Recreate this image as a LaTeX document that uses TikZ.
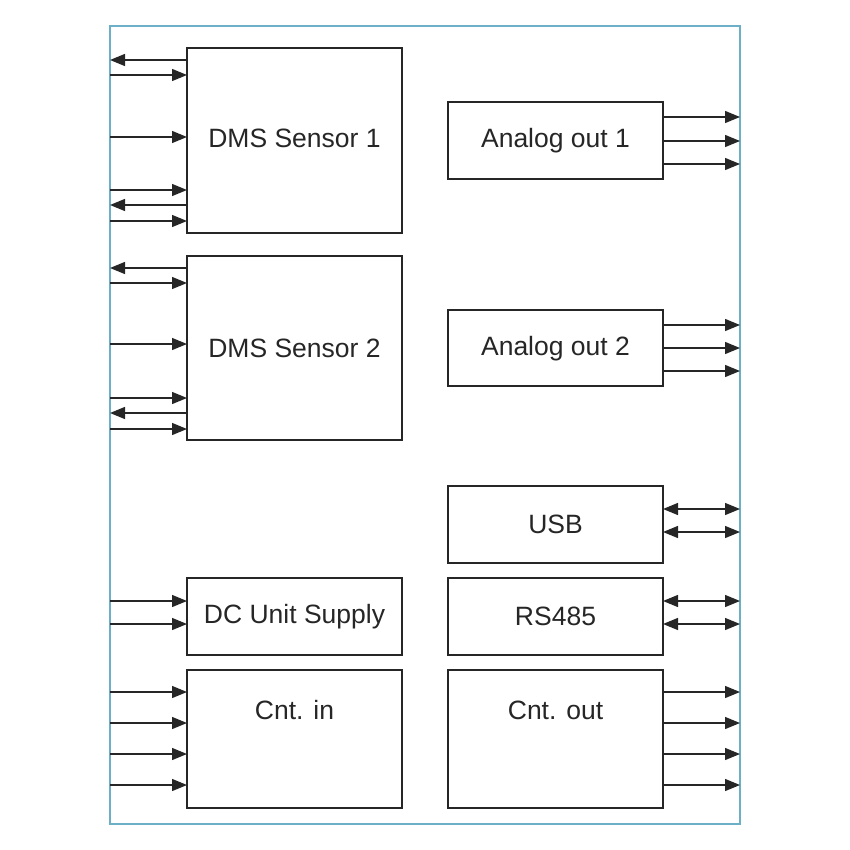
\documentclass[tikz,border=0pt]{standalone}
\usepackage{fontspec}
\setmainfont{Liberation Sans}
\usetikzlibrary{arrows.meta}
\begin{document}
\begin{tikzpicture}[x=1pt,y=-1pt,
  box/.style={draw=black!85,line width=1.2pt,fill=white},
  lbl/.style={font=\fontsize{26.5}{30}\selectfont,text=black!85},
  ar/.style={line width=1.3pt,draw=black!85,-{Triangle[length=15pt,width=12pt]}},
  da/.style={line width=1.3pt,draw=black!85,{Triangle[length=15pt,width=12pt]}-{Triangle[length=15pt,width=12pt]}}]
\useasboundingbox (0,0) rectangle (850,850);
\draw[draw={rgb,255:red,110;green,175;blue,200},line width=1.2pt] (110,26) rectangle (740,824);
\node[box,minimum width=215,minimum height=185] (d1) at (294.5,140.5) {};
\node[lbl] at (294.5,138) {DMS Sensor 1};
\node[box,minimum width=215,minimum height=184] (d2) at (294.5,348) {};
\node[lbl] at (294.5,348) {DMS Sensor 2};
\node[box,minimum width=215,minimum height=77] (a1) at (555.5,140.5) {};
\node[lbl] at (555.5,141) {Analog out 1};
\node[box,minimum width=215,minimum height=76] (a2) at (555.5,348) {};
\node[lbl] at (555.5,349) {Analog out 2};
\node[box,minimum width=215,minimum height=77] (usb) at (555.5,524.5) {};
\node[lbl] at (usb) {USB};
\node[box,minimum width=215,minimum height=77] (rs) at (555.5,616.5) {};
\node[lbl] at (rs) {RS485};
\node[box,minimum width=215,minimum height=77] (dc) at (294.5,616.5) {};
\node[lbl] at (dc) {DC Unit Supply};
\node[box,minimum width=215,minimum height=138] (ci) at (294.5,739) {};
\node[lbl] at (294.5,710) {Cnt. in};
\node[box,minimum width=215,minimum height=138] (co) at (555.5,739) {};
\node[lbl] at (555.5,710) {Cnt. out};
\foreach \y in {75,137,190,221,283,344,398,429} \draw[ar] (110,\y) -- (187,\y);
\foreach \y in {60,205,268,413} \draw[ar] (187,\y) -- (110,\y);
\foreach \y in {601,624,692,723,754,785} \draw[ar] (110,\y) -- (187,\y);
\foreach \y in {117,141,164,325,348,371,692,723,754,785} \draw[ar] (663,\y) -- (740,\y);
\foreach \y in {509,532,601,624} \draw[da] (663,\y) -- (740,\y);
\end{tikzpicture}
\end{document}
